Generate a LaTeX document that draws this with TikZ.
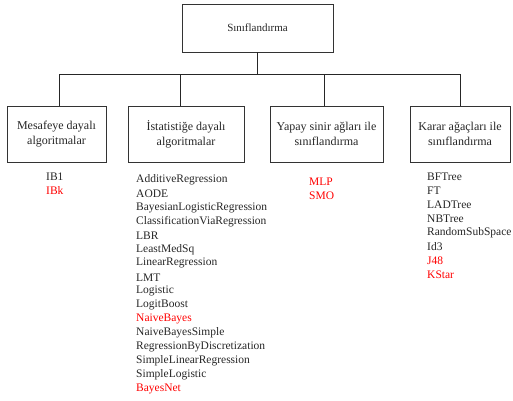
\documentclass[tikz,border=0pt]{standalone}
\usepackage{fontspec}
\setmainfont{Liberation Serif}
\usepackage{xcolor}
\usetikzlibrary{positioning}

\begin{document}
\begin{tikzpicture}[
      x=1pt, y=-1pt,
      every node/.style={font=\fontsize{11.5}{14}\selectfont, text=black!85},
      cbox/.style={draw=black!80, line width=0.8pt, minimum height=56pt,
                   inner sep=0pt, align=center, anchor=center,
                   font=\fontsize{12}{15}\selectfont},
      item/.style={anchor=west, inner sep=0pt},
      sel/.style={text=red},
      tline/.style={draw=black!85, line width=0.8pt},
    ]
    \useasboundingbox (0,0) rectangle (513,400);

    % --- root ---
    \node[cbox, minimum width=151pt, minimum height=48pt,
          font=\fontsize{11}{13}\selectfont] (root) at (257.5,28) {Sınıflandırma};

    % --- categories ---
    \node[cbox, minimum width=99pt] (mesafe) at (56.5,134)
      {Mesafeye dayalı\\algoritmalar};
    \node[cbox, minimum width=116pt] (istat) at (186,134)
      {İstatistiğe dayalı\\algoritmalar};
    \node[cbox, minimum width=113pt] (yapay) at (326.5,134)
      {Yapay sinir ağları ile\\sınıflandırma};
    \node[cbox, minimum width=100pt] (karar) at (460,134)
      {Karar ağaçları ile\\sınıflandırma};

    % --- tree lines ---
    \coordinate (bus) at (257.5,74);
    \foreach \c/\dx in {mesafe/2.5, istat/-6, yapay/-2.5, karar/0} {
      \draw[tline] (root.south) -- (bus) -| ([xshift=\dx pt]\c.north);
    }

    % --- distance based ---
    \foreach \val/\st [count=\i from 0] in {IB1/, IBk/sel} {
      \node[item, \st] (md\i) at (46, 177+\i*14) {\val};
    }

    % --- statistics based ---
    \foreach \val/\st [count=\i from 0] in {AdditiveRegression/, AODE/,
        BayesianLogisticRegression/, ClassificationViaRegression/, LBR/,
        LeastMedSq/, LinearRegression/, LMT/, Logistic/, LogitBoost/,
        NaiveBayes/sel, NaiveBayesSimple/, RegressionByDiscretization/,
        SimpleLinearRegression/, SimpleLogistic/, BayesNet/sel} {
      \node[item, \st] (st\i) at (136, 180+\i*13.9) {\val};
    }

    % --- neural networks ---
    \foreach \val/\st [count=\i from 0] in {MLP/sel, SMO/sel} {
      \node[item, \st] (nn\i) at (309, 182+\i*14) {\val};
    }

    % --- decision trees ---
    \foreach \val/\st [count=\i from 0] in {BFTree/, FT/, LADTree/, NBTree/,
        RandomSubSpace/, Id3/, J48/sel, KStar/sel} {
      \node[item, \st] (dt\i) at (427, 177+\i*14) {\val};
    }
  \end{tikzpicture}
\end{document}
